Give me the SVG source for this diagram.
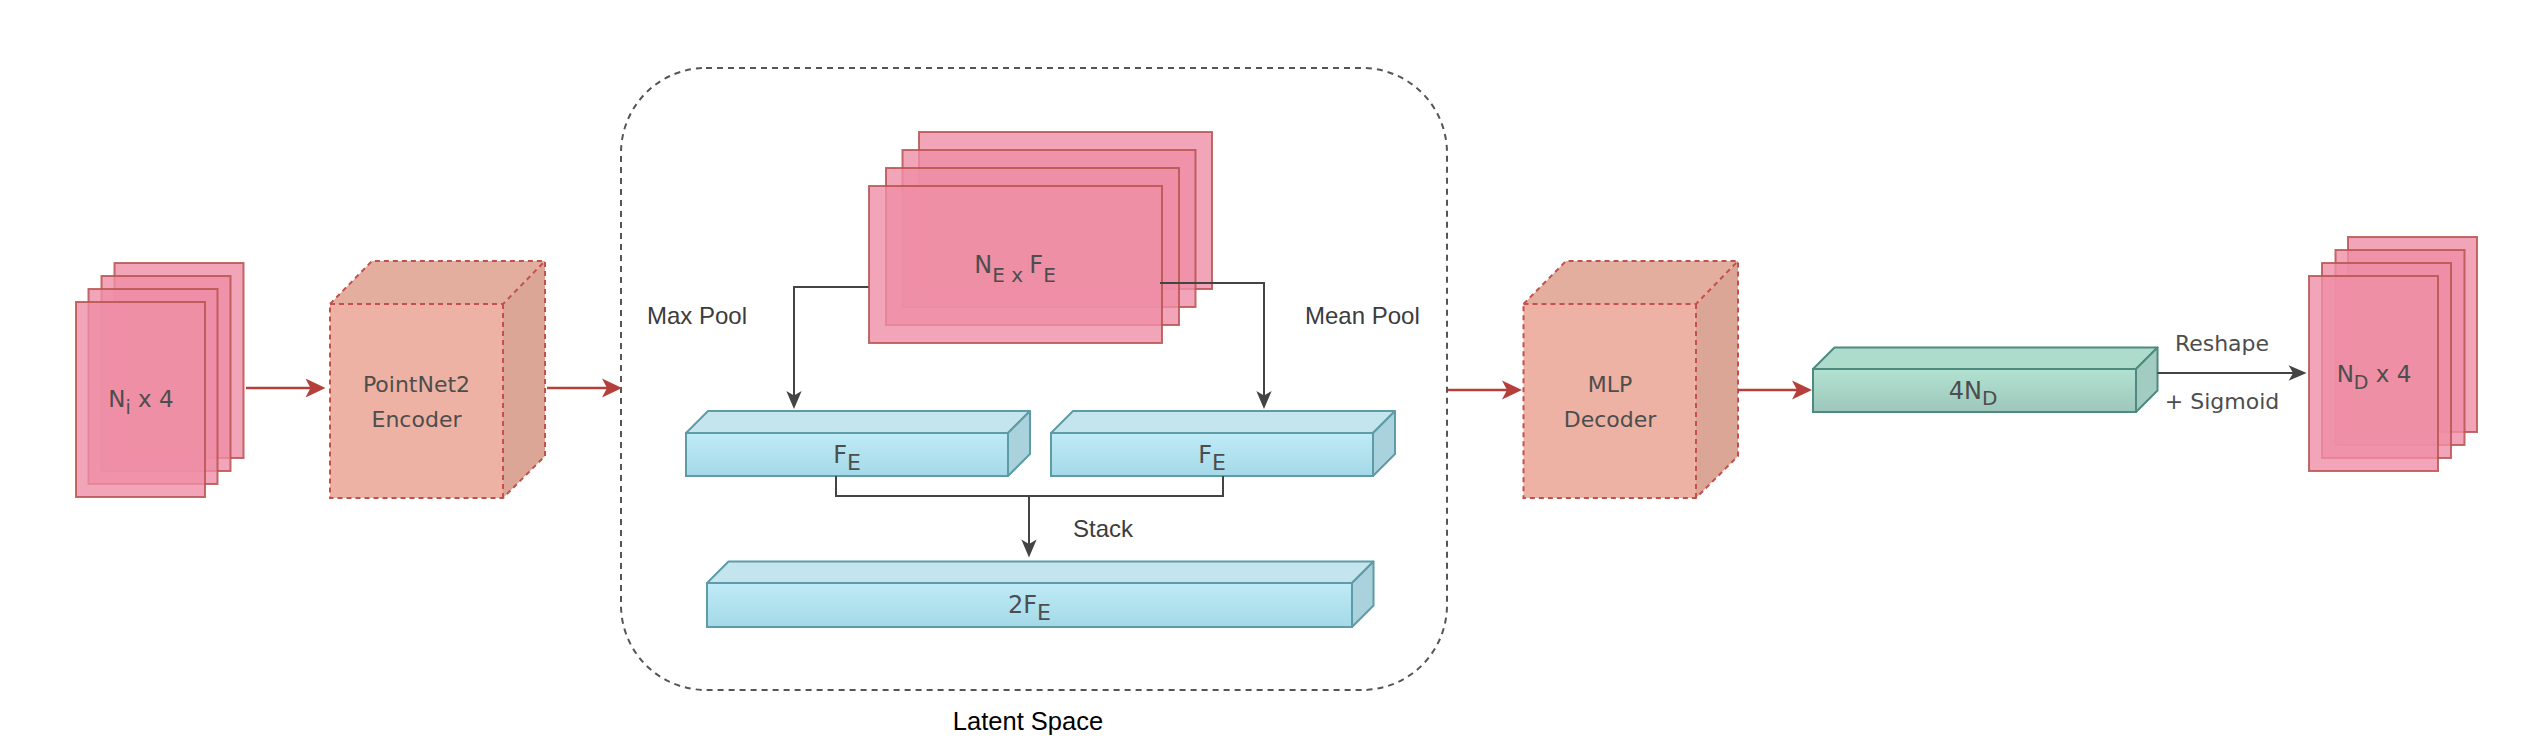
<svg xmlns="http://www.w3.org/2000/svg" width="2524" height="746" viewBox="0 0 2524 746">
<style>
.card{fill:#EF8EA6;fill-opacity:0.8;stroke:#B85450;stroke-opacity:0.85;stroke-width:2}
.cubeF{fill:#EDB2A4}
.cubeT{fill:#E4AE9F}
.cubeS{fill:#DCA696}
.cubeL{fill:none;stroke:#C4504C;stroke-width:2;stroke-dasharray:5 4}
.feT{fill:#C4E5ED;stroke:#5D9CA7;stroke-width:2;stroke-linejoin:round}
.feS{fill:#A9D2DC;stroke:#5D9CA7;stroke-width:2;stroke-linejoin:round}
.feF{fill:url(#gFE);stroke:#5D9CA7;stroke-width:2}
.ndT{fill:#AEDCCC;stroke:#4E8A7F;stroke-width:2;stroke-linejoin:round}
.ndS{fill:#A2CCBF;stroke:#4E8A7F;stroke-width:2;stroke-linejoin:round}
.ndF{fill:url(#gND);stroke:#4E8A7F;stroke-width:2}
.nt{font-family:"DejaVu Sans",Verdana,sans-serif;fill:#4D4D4D;text-anchor:middle}
.lb{font-family:"Liberation Sans",Arial,sans-serif;fill:#3C3C3C;font-size:24px}
.red{fill:none;stroke:#B5403B;stroke-width:2.5}
.gray{fill:none;stroke:#444444;stroke-width:2}
</style>
<defs>
<linearGradient id="gFE" x1="0" y1="0" x2="0" y2="1"><stop offset="0" stop-color="#BEEBF6"/><stop offset="1" stop-color="#A5D9E8"/></linearGradient>
<linearGradient id="gND" x1="0" y1="0" x2="0" y2="1"><stop offset="0" stop-color="#B2E2D2"/><stop offset="1" stop-color="#9DC7BA"/></linearGradient>
<marker id="arR" viewBox="0 0 20 20" refX="6" refY="10" markerWidth="20" markerHeight="20" markerUnits="userSpaceOnUse" orient="auto"><path d="M0,0.5 L20,10 L0,19.5 L5,10 Z" fill="#B5403B"/></marker>
<marker id="arG" viewBox="0 0 20 20" refX="6" refY="10" markerWidth="20" markerHeight="18" markerUnits="userSpaceOnUse" orient="auto"><path d="M0,1.5 L20,10 L0,18.5 L5,10 Z" fill="#444444"/></marker>
</defs>
<rect width="2524" height="746" fill="#FFFFFF"/>

<g id="latent-space">
<rect x="621" y="68" width="826" height="622" rx="85" ry="85" fill="none" stroke="#555555" stroke-width="2" stroke-dasharray="6 5"/>
<text x="1028" y="730" font-family="Liberation Sans,Arial,sans-serif" font-size="25.5" fill="#000000" text-anchor="middle">Latent Space</text>
</g>

<g id="input-stack">
<rect class="card" x="114.5" y="263" width="129" height="195"/>
<rect class="card" x="101.5" y="276" width="129" height="195"/>
<rect class="card" x="88.5" y="289" width="129" height="195"/>
<rect class="card" x="76" y="302" width="129" height="195"/>
<text class="nt" x="141" y="407" font-size="23">N<tspan font-size="19" dy="7">i</tspan><tspan dy="-7"> x 4</tspan></text>
</g>

<g id="pointnet2-encoder">
<rect class="cubeF" x="330" y="304" width="173" height="194"/>
<path class="cubeT" d="M330,304 L372,261 L545,261 L503,304 Z"/>
<path class="cubeS" d="M503,304 L545,261 L545,456 L503,498 Z"/>
<path class="cubeL" d="M330,304 L372,261 L545,261 L545,456 L503,498 L330,498 Z M330,304 L503,304 L545,261 M503,304 L503,498"/>
<text class="nt" x="416.5" y="392" font-size="22">PointNet2</text>
<text class="nt" x="416.5" y="427" font-size="22">Encoder</text>
</g>

<g id="ne-fe-stack">
<rect class="card" x="919" y="132" width="293" height="157"/>
<rect class="card" x="902.5" y="150" width="293" height="157"/>
<rect class="card" x="886" y="168" width="293" height="157"/>
<rect class="card" x="869" y="186" width="293" height="157"/>
<text class="nt" x="1015" y="273" font-size="24">N<tspan font-size="20" dy="9">E x </tspan><tspan dy="-9">F</tspan><tspan font-size="20" dy="9">E</tspan></text>
</g>

<g id="fe-max">
<path class="feT" d="M686,433 L708,411 L1030,411 L1008,433 Z"/>
<path class="feS" d="M1008,433 L1030,411 L1030,454 L1008,476 Z"/>
<rect class="feF" x="686" y="433" width="322" height="43"/>
<text class="nt" x="847" y="463" font-size="24">F<tspan font-size="22" dy="7">E</tspan></text>
</g>

<g id="fe-mean">
<path class="feT" d="M1051,433 L1073,411 L1395,411 L1373,433 Z"/>
<path class="feS" d="M1373,433 L1395,411 L1395,454 L1373,476 Z"/>
<rect class="feF" x="1051" y="433" width="322" height="43"/>
<text class="nt" x="1212" y="463" font-size="24">F<tspan font-size="22" dy="7">E</tspan></text>
</g>

<g id="fe-2">
<path class="feT" d="M707,583 L728.5,561.5 L1373.5,561.5 L1352,583 Z"/>
<path class="feS" d="M1352,583 L1373.5,561.5 L1373.5,605.5 L1352,627 Z"/>
<rect class="feF" x="707" y="583" width="645" height="44"/>
<text class="nt" x="1029.5" y="613" font-size="24">2F<tspan font-size="22" dy="7">E</tspan></text>
</g>

<g id="mlp-decoder">
<rect class="cubeF" x="1523.5" y="304" width="172.5" height="194"/>
<path class="cubeT" d="M1523.5,304 L1566,261 L1738,261 L1696,304 Z"/>
<path class="cubeS" d="M1696,304 L1738,261 L1738,456 L1696,498 Z"/>
<path class="cubeL" d="M1523.5,304 L1566,261 L1738,261 L1738,456 L1696,498 L1523.5,498 Z M1523.5,304 L1696,304 L1738,261 M1696,304 L1696,498"/>
<text class="nt" x="1610" y="392" font-size="22">MLP</text>
<text class="nt" x="1610" y="427" font-size="22">Decoder</text>
</g>

<g id="nd-4">
<path class="ndT" d="M1813,369 L1834.5,347.5 L2157.5,347.5 L2136,369 Z"/>
<path class="ndS" d="M2136,369 L2157.5,347.5 L2157.5,390.5 L2136,412 Z"/>
<rect class="ndF" x="1813" y="369" width="323" height="43"/>
<text class="nt" x="1973" y="399" font-size="24">4N<tspan font-size="20" dy="6">D</tspan></text>
</g>

<g id="output-stack">
<rect class="card" x="2348" y="237" width="129" height="195"/>
<rect class="card" x="2335.5" y="250" width="129" height="195"/>
<rect class="card" x="2322" y="263" width="129" height="195"/>
<rect class="card" x="2309" y="276" width="129" height="195"/>
<text class="nt" x="2374" y="381.5" font-size="23">N<tspan font-size="19" dy="7">D</tspan><tspan dy="-7"> x 4</tspan></text>
</g>

<g id="connectors">
<path class="red" d="M246,388 H311.5" marker-end="url(#arR)"/>
<path class="red" d="M547,388 H608" marker-end="url(#arR)"/>
<path class="red" d="M1448,390 H1508" marker-end="url(#arR)"/>
<path class="red" d="M1738,390 H1798" marker-end="url(#arR)"/>
<path class="gray" d="M2157.5,373 H2294" marker-end="url(#arG)"/>
<path class="gray" d="M868.5,287 H794 V396.5" marker-end="url(#arG)"/>
<path class="gray" d="M1160,283 H1264 V396.5" marker-end="url(#arG)"/>
<path class="gray" d="M836,476 V496 H1223 V476"/>
<path class="gray" d="M1029,496 V545" marker-end="url(#arG)"/>
</g>

<g id="labels">
<text class="lb" x="647" y="324">Max Pool</text>
<text class="lb" x="1305" y="324">Mean Pool</text>
<text class="lb" x="1073" y="537">Stack</text>
<text class="nt" x="2222" y="350.5" font-size="22">Reshape</text>
<text class="nt" x="2222" y="409" font-size="22">+ Sigmoid</text>
</g>
</svg>
